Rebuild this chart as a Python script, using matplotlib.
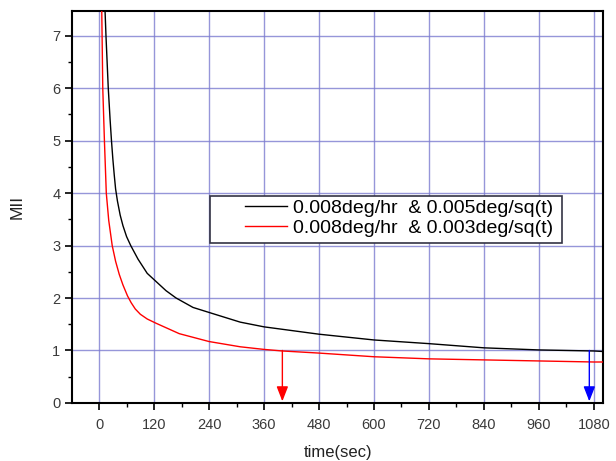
#!/usr/bin/env python
# -*- coding: utf-8 -*-

"""MII versus time for two gyro error settings."""

import matplotlib
matplotlib.use("Agg")
import matplotlib.pyplot as plt
from matplotlib.patches import Rectangle
from matplotlib.ticker import MultipleLocator

# values
black_t = [13, 15, 20, 24, 27, 30, 33, 36, 40, 46, 52, 60, 69, 85, 105, 146, 168, 205, 249, 308, 360, 480, 600, 720, 840, 960, 1080, 1100]
black_mii = [7.47, 7.0, 6.0, 5.4, 5.0, 4.65, 4.35, 4.08, 3.85, 3.58, 3.38, 3.17, 3.0, 2.74, 2.47, 2.14, 2.0, 1.82, 1.70, 1.54, 1.45, 1.31, 1.20, 1.13, 1.05, 1.01, 0.99, 0.98]

red_t = [5.8, 8, 11.6, 15.7, 21, 28.6, 36, 44, 52, 62, 70, 79, 90, 105, 124, 175, 240, 308, 360, 400, 480, 600, 720, 840, 960, 1080, 1100]
red_mii = [7.47, 6.0, 5.0, 4.0, 3.48, 3.0, 2.70, 2.45, 2.25, 2.04, 1.91, 1.79, 1.69, 1.60, 1.52, 1.32, 1.17, 1.07, 1.02, 0.99, 0.95, 0.88, 0.84, 0.82, 0.80, 0.78, 0.78]

labels = ["0.008deg/hr  & 0.005deg/sq(t)", "0.008deg/hr  & 0.003deg/sq(t)"]

arrow_t = [400, 1070]
arrow_from = [1.0, 1.0]
arrow_colors = ["red", "blue"]

x_ticks = [0, 120, 240, 360, 480, 600, 720, 840, 960, 1080]
y_ticks = [0, 1, 2, 3, 4, 5, 6, 7]

plt.rcParams["font.family"] = ["Liberation Sans", "DejaVu Sans"]

fig = plt.figure(figsize=(6.16, 4.61), dpi=100)
ax = fig.add_axes([0.117, 0.126, 0.862, 0.850])

ax.plot(black_t, black_mii, color="black", linewidth=1.0, label=labels[0], zorder=3)
ax.plot(red_t, red_mii, color="red", linewidth=1.0, label=labels[1], zorder=3)

for t, y0, c in zip(arrow_t, arrow_from, arrow_colors):
    ax.annotate(
        "",
        xy=(t, 0.03),
        xytext=(t, y0),
        arrowprops=dict(arrowstyle="-|>,head_length=0.9,head_width=0.35", color=c, linewidth=1.0,
                        shrinkA=0, shrinkB=0),
        zorder=4,
    )

ax.set_xlim(-59, 1100)
ax.set_ylim(0, 7.47)
ax.set_xticks(x_ticks)
ax.set_yticks(y_ticks)
ax.xaxis.set_minor_locator(MultipleLocator(60))
ax.yaxis.set_minor_locator(MultipleLocator(0.5))
ax.tick_params(which="major", direction="out", length=5, width=1.2, labelsize=10.5, labelcolor="#3a3a3a")
ax.tick_params(which="minor", direction="out", length=3, width=1.0)
ax.tick_params(axis="x", pad=6)

ax.grid(True, which="major", color="#7c7cd0", linewidth=1.0, alpha=0.8, zorder=0)
ax.set_axisbelow(True)
for s in ax.spines.values():
    s.set_linewidth(1.5)

ax.set_xlabel("time(sec)", fontsize=12, color="#222222", labelpad=9)
ax.set_ylabel("MII", fontsize=12.5, color="#222222", labelpad=20)

# legend text without its own frame, box drawn separately
leg = ax.legend(
    loc="upper right",
    bbox_to_anchor=(0.923, 0.543),
    fontsize=14,
    frameon=False,
    borderpad=0.45,
    labelspacing=0.15,
    handlelength=2.2,
    handletextpad=0.3,
    borderaxespad=0,
)
leg.set_zorder(6)
box = Rectangle((0.260, 0.408), 0.663, 0.120, transform=ax.transAxes,
                facecolor="white", edgecolor="#333344", linewidth=1.2, zorder=5)
ax.add_patch(box)

fig.savefig("out.png", dpi=100)
